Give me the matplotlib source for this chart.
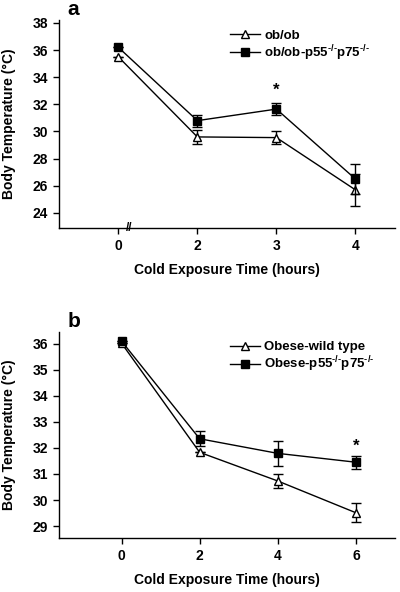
import numpy as np
import matplotlib
matplotlib.use("Agg")
import matplotlib.pyplot as plt
from matplotlib.lines import Line2D

plt.rcParams['font.family'] = ['Liberation Sans', 'DejaVu Sans']
plt.rcParams['font.weight'] = 'bold'
plt.rcParams['mathtext.fontset'] = 'custom'
plt.rcParams['mathtext.rm'] = 'Liberation Sans:bold'
plt.rcParams['mathtext.bf'] = 'Liberation Sans:bold'

# panel a
a_hours = ["0", "2", "3", "4"]
a_obob = [35.5, 29.6, 29.55, 25.7]
a_obob_err = [0.0, 0.5, 0.5, 1.15]
a_ko = [36.2, 30.8, 31.65, 26.5]
a_ko_err = [0.0, 0.45, 0.45, 1.1]
a_star_idx = 2
a_star_y = 33.0

# panel b
b_hours = [0, 2, 4, 6]
b_wt = [36.02, 31.83, 30.73, 29.51]
b_wt_err = [0.0, 0.0, 0.25, 0.37]
b_ko = [36.1, 32.35, 31.79, 31.45]
b_ko_err = [0.0, 0.28, 0.47, 0.25]
b_star_x = 6
b_star_y = 32.05

ko_a = r"ob/ob-p55$^{\text{-/-}}$p75$^{\text{-/-}}$"
ko_b = r"Obese-p55$^{\text{-/-}}$p75$^{\text{-/-}}$"

FS = 10

fig = plt.figure(figsize=(4.0, 5.92), dpi=100)
ax1 = fig.add_axes([0.1475, 0.615, 0.84, 0.351])
ax2 = fig.add_axes([0.1475, 0.0907, 0.84, 0.349])


def style(ax):
    for s in ['top', 'right']:
        ax.spines[s].set_visible(False)
    for s in ['left', 'bottom']:
        ax.spines[s].set_linewidth(1.0)
    ax.tick_params(direction='out', length=4, width=1, labelsize=FS, pad=4)
    for lab in ax.get_xticklabels() + ax.get_yticklabels():
        lab.set_fontweight('bold')
    ax.set_ylabel("Body Temperature (°C)", fontsize=FS, fontweight='bold', labelpad=12)
    ax.set_xlabel("Cold Exposure Time (hours)", fontsize=FS, fontweight='bold', labelpad=7)


def draw(ax, x, y1, e1, y2, e2, lab1, lab2):
    ax.errorbar(x, y1, yerr=e1, color='black', lw=1, marker='^', ms=6,
                mfc='white', mec='black', mew=1, capsize=3.5, elinewidth=1,
                capthick=1, zorder=3)
    ax.errorbar(x, y2, yerr=e2, color='black', lw=1, marker='s', ms=5.5,
                mfc='black', mec='black', capsize=3.5, elinewidth=1,
                capthick=1, zorder=4)
    handles = [Line2D([], [], color='black', lw=1, marker='^', ms=6, mfc='white', mec='black'),
               Line2D([], [], color='black', lw=1, marker='s', ms=5.5, mfc='black', mec='black')]
    leg = ax.legend(handles, [lab1, lab2], loc='upper left', bbox_to_anchor=(0.48, 1.0),
                    frameon=False, fontsize=9.5, handlelength=2.3, handletextpad=0.35,
                    labelspacing=0.1, borderaxespad=0.3)
    for t in leg.get_texts():
        t.set_fontweight('bold')


# ---- panel a ----
xa = np.arange(len(a_hours))
draw(ax1, xa, a_obob, a_obob_err, a_ko, a_ko_err, "ob/ob", ko_a)
ax1.set_xlim(-0.75, 3.5)
ax1.set_ylim(22.9, 38.2)
ax1.set_yticks(np.arange(24, 39, 2))
ax1.set_xticks(xa)
ax1.set_xticklabels(a_hours)
style(ax1)
ax1.text(xa[a_star_idx], a_star_y, "*", ha='center', va='center', fontsize=12, fontweight='bold')
ax1.text(0.14, 0.0, "//", transform=ax1.get_xaxis_transform(), ha='center', va='center',
         fontsize=8.5, fontweight='bold')
ax1.text(0.025, 1.005, "a", transform=ax1.transAxes, ha='left', va='bottom', fontsize=15,
         fontweight='bold')

# ---- panel b ----
draw(ax2, b_hours, b_wt, b_wt_err, b_ko, b_ko_err, "Obese-wild type", ko_b)
ax2.set_xlim(-1.6, 7.0)
ax2.set_ylim(28.53, 36.46)
ax2.set_yticks(np.arange(29, 37, 1))
ax2.set_xticks(b_hours)
style(ax2)
ax2.text(b_star_x, b_star_y, "*", ha='center', va='center', fontsize=12, fontweight='bold')
ax2.text(0.025, 1.005, "b", transform=ax2.transAxes, ha='left', va='bottom', fontsize=15,
         fontweight='bold')

fig.savefig("out.png", dpi=100)
